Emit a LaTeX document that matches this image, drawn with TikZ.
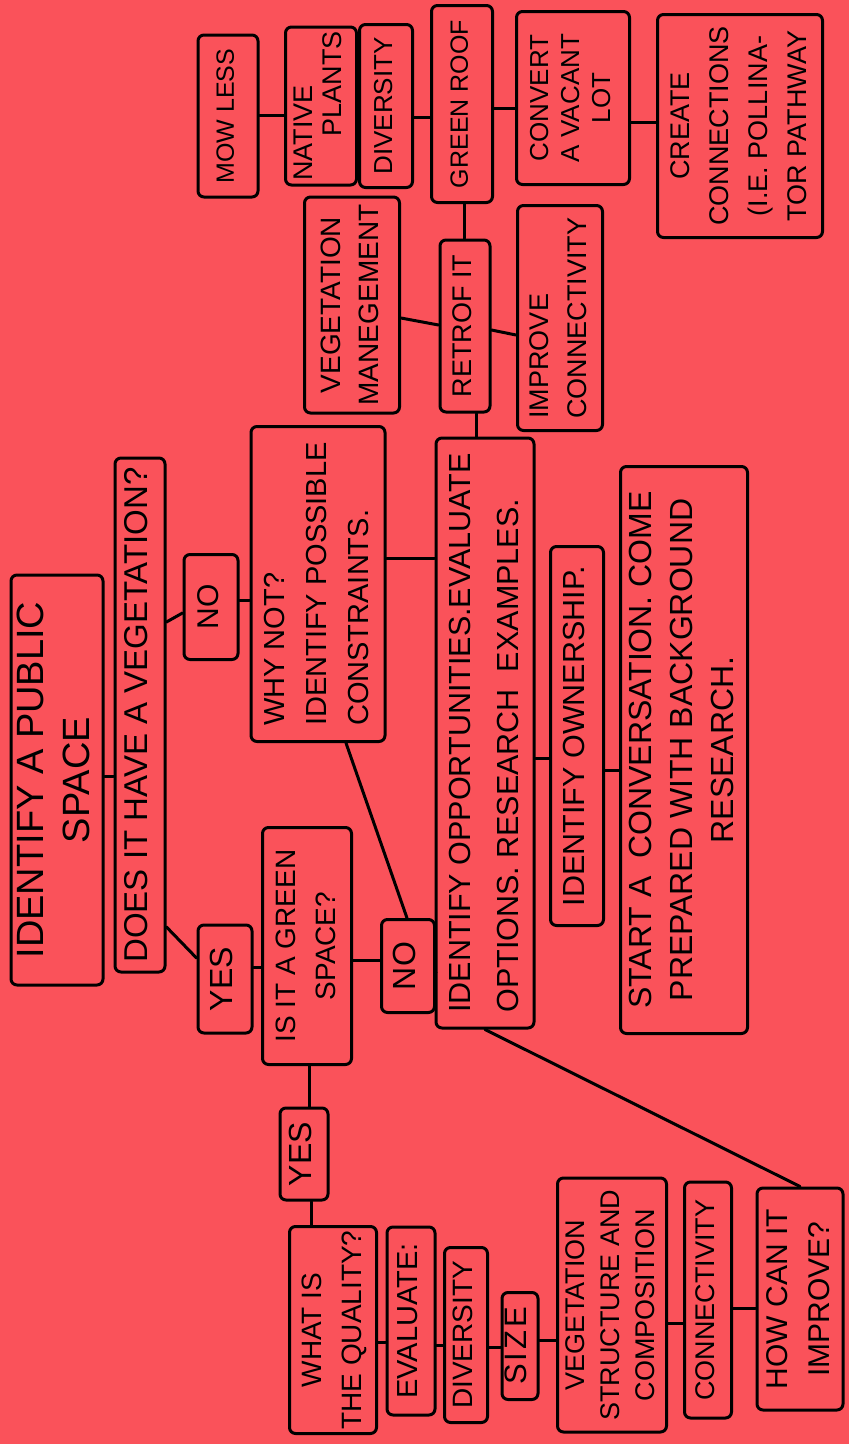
\documentclass[tikz,border=0pt]{standalone}
\usepackage{fontspec}
\setmainfont{Liberation Sans}
\usepackage{graphicx}
\definecolor{bg}{RGB}{250,82,90}
\newcommand{\rt}[4][c]{\fontsize{#2pt}{#3pt}\selectfont\rotatebox{90}{\begin{tabular}{@{}#1@{}}#4\end{tabular}}}
\begin{document}
\begin{tikzpicture}[x=1pt,y=-1pt,
  box/.style={draw=black, line width=3pt, rounded corners=6pt, inner sep=0pt},
  ln/.style={line width=3pt, line cap=round}]
\fill[bg] (0,0) rectangle (849,1444);
\useasboundingbox (0,0) rectangle (849,1444);

% top rows
\node[box, minimum width=60pt, minimum height=162pt] (mow) at (228,116) {\rt{25}{29}{MOW LESS}};
\node[box, minimum width=71pt, minimum height=158pt] (native) at (321,106) {\rt[l]{27}{29}{NATIVE\\\hspace*{44pt}PLANTS}};
\node[box, minimum width=53pt, minimum height=163pt] (div1) at (386,106) {\rt{26}{30}{DIVERSITY}};
\node[box, minimum width=61pt, minimum height=197pt] (groof) at (462,104) {\rt{25}{29}{GREEN ROOF}};
\node[box, minimum width=113pt, minimum height=173pt] (convert) at (573,98) {\rt{26}{31}{CONVERT\\A VACANT\\LOT}};
\node[box, minimum width=165pt, minimum height=223pt] (create) at (740,126) {\rt{27}{39}{CREATE\\CONNECTIONS\\(I.E. POLLINA-\\TOR PATHWAY}};
\node[box, minimum width=95pt, minimum height=216pt] (veg) at (352,305) {\rt{28}{38}{VEGETATION\\MANEGEMENT}};
\node[box, minimum width=50pt, minimum height=172pt] (retro) at (465,326) {\rt{27}{31}{RETROF IT}};
\node[box, minimum width=85pt, minimum height=225pt] (improve) at (560,318) {\rt[l]{27}{38}{IMPROVE\\CONNECTIVITY}};

% middle
\node[box, minimum width=92pt, minimum height=410pt] (identify) at (57,780) {\rt{38}{46}{IDENTIFY A PUBLIC\\SPACE}};
\node[box, minimum width=50pt, minimum height=514pt] (does) at (140,715) {\rt{33}{38}{DOES IT HAVE A VEGETATION?}};
\node[box, minimum width=54pt, minimum height=105pt] (no1) at (211,607) {\rt{30}{35}{NO}};
\node[box, minimum width=134pt, minimum height=315pt] (why) at (318,584) {\rt[l]{29}{42}{WHY NOT?\\IDENTIFY POSSIBLE\\CONSTRAINTS.}};
\node[box, minimum width=98pt, minimum height=590pt] (opp) at (485,733) {\rt[l]{30.5}{48}{IDENTIFY OPPORTUNITIES.EVALUATE\\OPTIONS. RESEARCH\ \ EXAMPLES.}};
\node[box, minimum width=53pt, minimum height=379pt] (own) at (577,736) {\rt{30.5}{35}{IDENTIFY OWNERSHIP.}};
\node[box, minimum width=127pt, minimum height=567pt] (start) at (684,750) {\rt{32}{41}{START A\ \ CONVERSATION. COME\\PREPARED WITH BACKGROUND\\RESEARCH.}};
\node[box, minimum width=54pt, minimum height=108pt] (yes1) at (225,979) {\rt{32}{37}{YES}};
\node[box, minimum width=89pt, minimum height=237pt] (isit) at (307,946) {\rt{28}{40}{IS IT A GREEN\\SPACE?}};
\node[box, minimum width=53pt, minimum height=93pt] (no2) at (408,966) {\rt{32}{37}{NO}};

% bottom
\node[box, minimum width=48pt, minimum height=92pt] (yes2) at (304,1154) {\rt{32}{37}{YES}};
\node[box, minimum width=87pt, minimum height=207pt] (what) at (333,1330) {\rt{28}{40}{WHAT IS\\THE QUALITY?}};
\node[box, minimum width=48pt, minimum height=188pt] (eval) at (411,1321) {\rt{29}{33}{EVALUATE:}};
\node[box, minimum width=43pt, minimum height=175pt] (div2) at (466,1335) {\rt{28}{32}{DIVERSITY}};
\node[box, minimum width=36pt, minimum height=107pt] (size) at (520,1346) {\rt{31}{34}{S\kern3pt I\kern3pt Z\kern3pt E}};
\node[box, minimum width=109pt, minimum height=254pt] (vsc) at (612,1305) {\rt{27}{35}{VEGETATION\\STRUCTURE AND\\COMPOSITION}};
\node[box, minimum width=47pt, minimum height=236pt] (conn2) at (708,1300) {\rt{27}{31}{CONNECTIVITY}};
\node[box, minimum width=86pt, minimum height=222pt] (how) at (800,1299) {\rt{30}{42}{HOW CAN IT\\IMPROVE?}};

% helper levels
\coordinate (h1) at (0,115);
\coordinate (h2) at (0,105);
\coordinate (h3) at (0,117);
\coordinate (h4) at (0,108);
\coordinate (h5) at (0,122);
\coordinate (v6) at (464,0);
\coordinate (h7a) at (0,318);
\coordinate (h7b) at (0,325);
\coordinate (h8a) at (0,330);
\coordinate (h8b) at (0,335);
\coordinate (v9) at (476,0);
\coordinate (h10) at (0,776);
\coordinate (h11a) at (0,622);
\coordinate (h11b) at (0,613);
\coordinate (h12a) at (0,927);
\coordinate (h12b) at (0,958);
\coordinate (h13) at (0,600);
\coordinate (h14) at (0,558);
\coordinate (v15a) at (346,0);
\coordinate (v15b) at (407,0);
\coordinate (h16) at (0,967);
\coordinate (h17) at (0,960);
\coordinate (h18) at (0,972);
\coordinate (h19) at (0,758);
\coordinate (h20) at (0,770);
\coordinate (v22) at (309,0);
\coordinate (v23) at (311,0);
\coordinate (h24) at (0,1342);
\coordinate (h25) at (0,1345);
\coordinate (h26) at (0,1347);
\coordinate (h27) at (0,1340);
\coordinate (h28) at (0,1323);
\coordinate (h29) at (0,1308);

% connectors
\draw[ln] (mow.east |- h1) -- (native.west |- h1);
\draw[ln] (native.east |- h2) -- (div1.west |- h2);
\draw[ln] (div1.east |- h3) -- (groof.west |- h3);
\draw[ln] (groof.east |- h4) -- (convert.west |- h4);
\draw[ln] (convert.east |- h5) -- (create.west |- h5);
\draw[ln] (groof.south -| v6) -- (retro.north -| v6);
\draw[ln] (veg.east |- h7a) -- (retro.west |- h7b);
\draw[ln] (retro.east |- h8a) -- (improve.west |- h8b);
\draw[ln] (retro.south -| v9) -- (opp.north -| v9);
\draw[ln] (identify.east |- h10) -- (does.west |- h10);
\draw[ln] (does.east |- h11a) -- (no1.west |- h11b);
\draw[ln] (does.east |- h12a) -- (yes1.west |- h12b);
\draw[ln] (no1.east |- h13) -- (why.west |- h13);
\draw[ln] (why.east |- h14) -- (opp.west |- h14);
\draw[ln] (why.south -| v15a) -- (no2.north -| v15b);
\draw[ln] (yes1.east |- h16) -- (isit.west |- h16);
\draw[ln] (isit.east |- h17) -- (no2.west |- h17);
\draw[ln] (no2.east |- h18) -- (opp.west |- h18);
\draw[ln] (opp.east |- h19) -- (own.west |- h19);
\draw[ln] (own.east |- h20) -- (start.west |- h20);
\draw[ln] (opp.south) -- (how.north);
\draw[ln] (isit.south -| v22) -- (yes2.north -| v22);
\draw[ln] (yes2.south -| v23) -- (what.north -| v23);
\draw[ln] (what.east |- h24) -- (eval.west |- h24);
\draw[ln] (eval.east |- h25) -- (div2.west |- h25);
\draw[ln] (div2.east |- h26) -- (size.west |- h26);
\draw[ln] (size.east |- h27) -- (vsc.west |- h27);
\draw[ln] (vsc.east |- h28) -- (conn2.west |- h28);
\draw[ln] (conn2.east |- h29) -- (how.west |- h29);
\end{tikzpicture}
\end{document}
